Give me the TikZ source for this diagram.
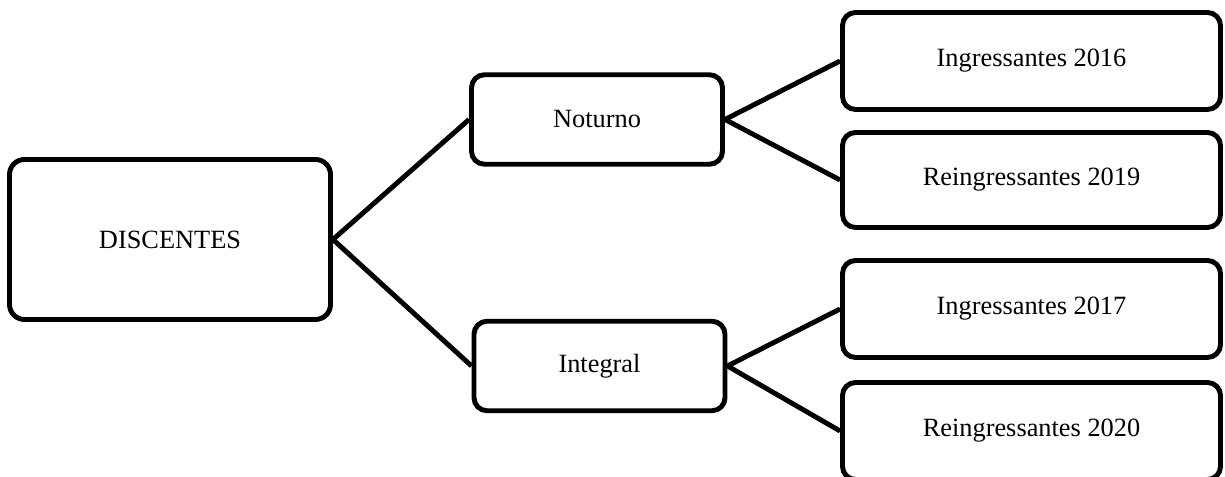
\documentclass[tikz,border=0pt]{standalone}
\usepackage{fontspec}
\setmainfont{Liberation Serif}
\begin{document}
\begin{tikzpicture}
\def\gw{7.56cm}
\def\gh{1.94cm}
\tikzset{base/.style={draw,line width=2.8pt,rounded corners=0.26cm,font=\fontsize{15}{18}\selectfont},
disc/.style={base,minimum width=6.42cm,minimum height=3.2cm,rounded corners=0.3cm},
turno/.style={base,minimum width=5.02cm,minimum height=1.79cm},
grupo/.style={base,minimum width=\gw,minimum height=\gh},
every path/.style={line width=2.8pt}}
\useasboundingbox (0,0) rectangle (24.5,9.54);
\node[disc] at (3.40,4.75) (DIS) {DISCENTES};
\node[turno] at (11.94,7.15) (NOT) {Noturno};
\node[turno] at (11.99,2.22) (INT) {Integral};
\node[grupo] at (20.63,8.32) (I16) {Ingressantes 2016};
\node[grupo,minimum height=1.9cm] at (20.63,5.94) (R19) {Reingressantes 2019};
\node[grupo] at (20.63,3.36) (I17) {Ingressantes 2017};
\node[grupo] at (20.63,0.92) (R20) {Reingressantes 2020};
\draw (DIS.east) -- (NOT.west);
\draw (DIS.east) -- (INT.west);
\draw (NOT.east) -- (I16.west);
\draw (NOT.east) -- (R19.west);
\draw (INT.east) -- (I17.west);
\draw (INT.east) -- (R20.west);
\end{tikzpicture}
\end{document}
